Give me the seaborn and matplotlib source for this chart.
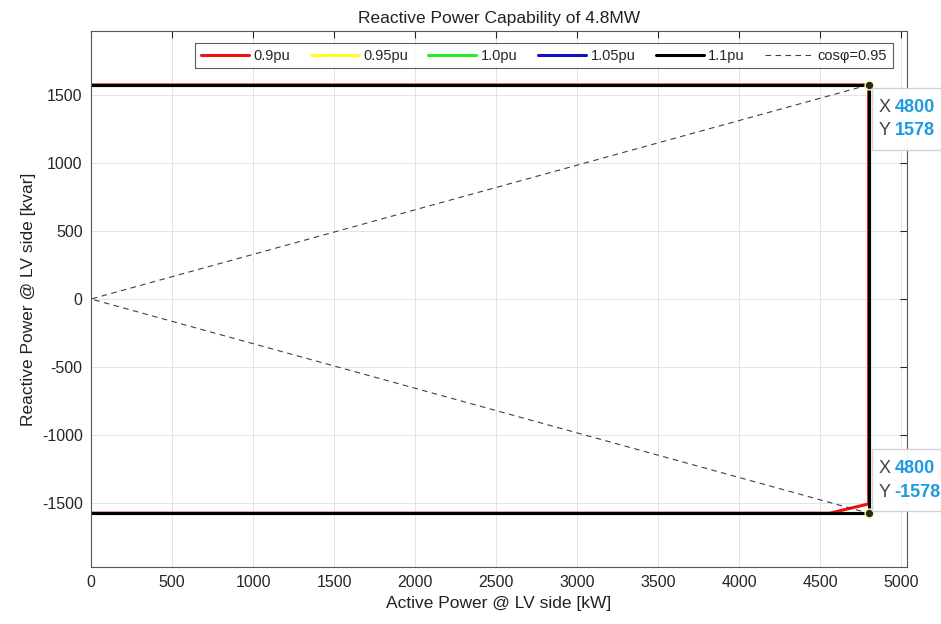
import pandas as pd
import matplotlib.pyplot as plt
import seaborn as sns
from matplotlib.patches import Rectangle
from matplotlib.transforms import IdentityTransform

# capability curves per terminal voltage (P in kW, Q in kvar)
p_09 = [0, 4800, 4800, 4560, 0]
q_09 = [1578, 1578, -1510, -1578, -1578]
p_095 = [0, 4800, 4800, 0]
q_095 = [1578, 1578, -1578, -1578]
p_10 = [0, 4800, 4800, 0]
q_10 = [1578, 1578, -1578, -1578]
p_105 = [0, 4800, 4800, 0]
q_105 = [1578, 1578, -1578, -1578]
p_11 = [0, 4800, 4800, 0]
q_11 = [1578, 1578, -1578, -1578]

# cos(phi)=0.95 limit
p_cos = [4800, 0, 4800]
q_cos = [1578, 0, -1578]

# data tips
tip_p = [4800, 4800]
tip_q = [1578, -1578]

sns.set_style("white")
plt.rcParams['font.family'] = ['Liberation Sans', 'DejaVu Sans']
plt.rcParams['axes.unicode_minus'] = False

fig = plt.figure(figsize=(9.41, 6.24), dpi=100)
ax = fig.add_axes([0.0967, 0.0913, 0.8672, 0.859])

curves = [
    (p_09, q_09, "0.9pu", "#ee1111"),
    (p_095, q_095, "0.95pu", "#ffff22"),
    (p_10, q_10, "1.0pu", "#22ee22"),
    (p_105, q_105, "1.05pu", "#1111cc"),
    (p_11, q_11, "1.1pu", "black"),
]
for p, q, lab, col in curves:
    sns.lineplot(x=p, y=q, sort=False, estimator=None, color=col,
                 linewidth=2.2, label=lab, ax=ax)

sns.lineplot(x=p_cos, y=q_cos, sort=False, estimator=None, color="#404040",
             linewidth=0.8, linestyle=(0, (5, 4)), label="cos\u03c6=0.95", ax=ax)

sns.scatterplot(x=tip_p, y=tip_q, s=40, color="#262626", edgecolor="#ffff99",
                linewidth=1.0, zorder=10, clip_on=False, ax=ax, legend=False)

ax.set_xlim(0, 5037)
ax.set_ylim(-1975, 1975)
ax.set_xticks(range(0, 5001, 500))
ax.set_yticks(range(-1500, 1501, 500))
ax.grid(True, color="#e3e3e3", linewidth=0.7)
ax.tick_params(direction="in", length=5, width=0.8, top=True, right=True,
               labelsize=11.5, colors="#262626", pad=6)
for s in ax.spines.values():
    s.set_color("#555555")
    s.set_linewidth(0.8)

ax.set_title("Reactive Power Capability of 4.8MW", fontsize=12.5, color="#222222", pad=6)
ax.set_xlabel("Active Power @ LV side [kW]", fontsize=12.5, color="#222222")
ax.set_ylabel("Reactive Power @ LV side [kvar]", fontsize=12.5, color="#222222")

leg = ax.legend(loc="upper right", ncol=6, fontsize=10.5, frameon=True,
                fancybox=False, handlelength=3.3, handletextpad=0.3,
                columnspacing=1.4, borderpad=0.4, borderaxespad=0,
                bbox_to_anchor=(0.983, 0.978))
leg.get_frame().set_edgecolor("#333333")
leg.get_frame().set_linewidth(0.8)

# data tip boxes
for p, q in zip(tip_p, tip_q):
    px, py = ax.transData.transform((p, q))
    if q > 0:
        y0, ty1, ty2 = py - 65, py - 23, py - 46
    else:
        y0, ty1, ty2 = py + 2, py + 45, py + 21
    fig.add_artist(Rectangle((px + 3, y0), 100, 62, transform=IdentityTransform(),
                             facecolor="white", edgecolor="#d0d0d0",
                             linewidth=1.0, alpha=0.95, zorder=20))
    fig.text(px + 10, ty1, "X", transform=IdentityTransform(), fontsize=13,
             color="#444444", va="center", zorder=21)
    fig.text(px + 10, ty2, "Y", transform=IdentityTransform(), fontsize=13,
             color="#444444", va="center", zorder=21)
    fig.text(px + 26, ty1, f"{p}", transform=IdentityTransform(), fontsize=13,
             color="#1e9be0", fontweight="bold", va="center", zorder=21)
    fig.text(px + 26, ty2, f"{q}", transform=IdentityTransform(), fontsize=13,
             color="#1e9be0", fontweight="bold", va="center", zorder=21)

fig.savefig("out.png", dpi=100)
